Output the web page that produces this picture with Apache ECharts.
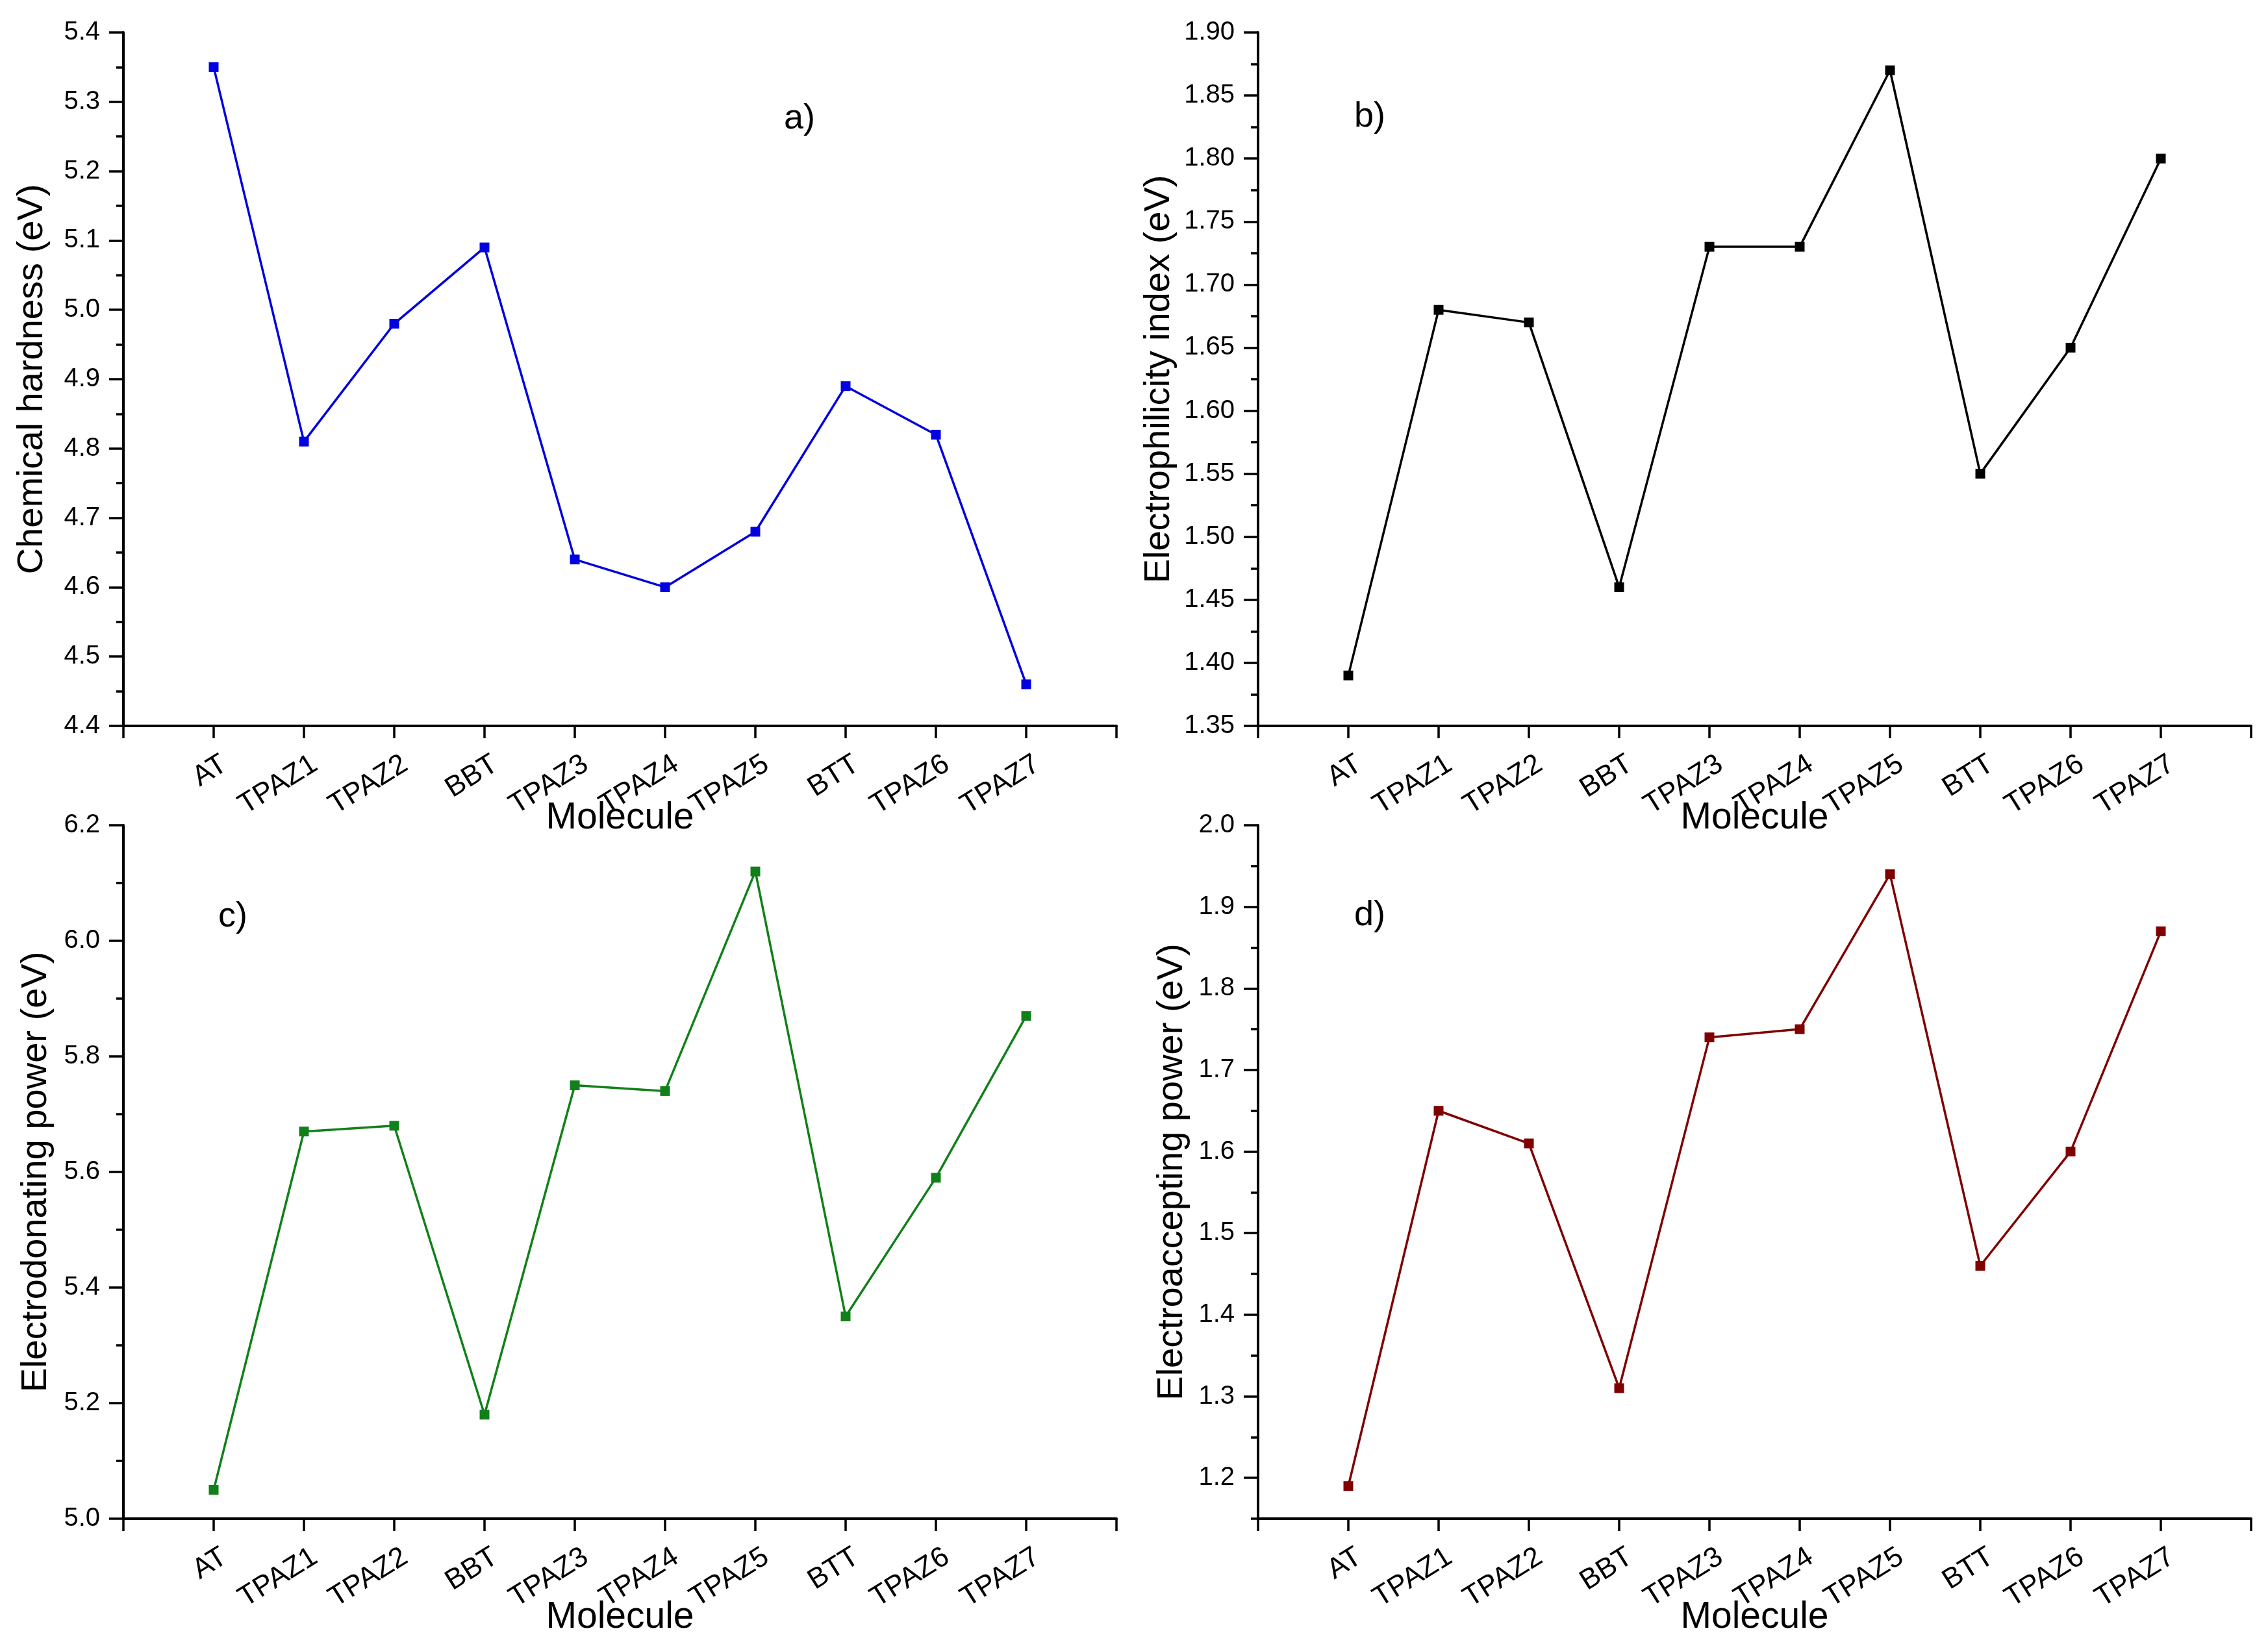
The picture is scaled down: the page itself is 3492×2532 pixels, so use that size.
<!DOCTYPE html>
<html>
<head>
<meta charset="utf-8">
<script src="https://cdn.jsdelivr.net/npm/echarts@6.0.0/dist/echarts.min.js"></script>
<style>
html,body{margin:0;padding:0;background:#fff;}
#chart{width:3492px;height:2532px;}
</style>
</head>
<body>
<div id="chart"></div>
<script>
// ---- data ----
const molecules = ['AT','TPAZ1','TPAZ2','BBT','TPAZ3','TPAZ4','TPAZ5','BTT','TPAZ6','TPAZ7'];
const hardness = [5.35, 4.81, 4.98, 5.09, 4.64, 4.60, 4.68, 4.89, 4.82, 4.46];
const electrophilicity = [1.39, 1.68, 1.67, 1.46, 1.73, 1.73, 1.87, 1.55, 1.65, 1.80];
const electrodonating = [5.05, 5.67, 5.68, 5.18, 5.75, 5.74, 6.12, 5.35, 5.59, 5.87];
const electroaccepting = [1.19, 1.65, 1.61, 1.31, 1.74, 1.75, 1.94, 1.46, 1.60, 1.87];

const hardnessTicks = ['4.4','4.5','4.6','4.7','4.8','4.9','5.0','5.1','5.2','5.3','5.4'];
const electrophilicityTicks = ['1.35','1.40','1.45','1.50','1.55','1.60','1.65','1.70','1.75','1.80','1.85','1.90'];
const electrodonatingTicks = ['5.0','5.2','5.4','5.6','5.8','6.0','6.2'];
const electroacceptingTicks = ['1.2','1.3','1.4','1.5','1.6','1.7','1.8','1.9','2.0'];

const FONT = '"Liberation Sans", Arial, sans-serif';

const panels = [
  {values: hardness, ticks: hardnessTicks, range: [4.4, 5.4], name: 'Chemical hardness (eV)',
   color: '#0000e0', tag: 'a)', left: 190, top: 50, nameGap: 112, xNameGap: 114, tagX: 1207, tagY: 186},
  {values: electrophilicity, ticks: electrophilicityTicks, range: [1.35, 1.90], name: 'Electrophilicity index (eV)',
   color: '#000000', tag: 'b)', left: 1937, top: 50, nameGap: 124, xNameGap: 114, tagX: 2085, tagY: 183},
  {values: electrodonating, ticks: electrodonatingTicks, range: [5.0, 6.2], name: 'Electrodonating power (eV)',
   color: '#12801a', tag: 'c)', left: 190, top: 1271, nameGap: 106, xNameGap: 124, tagX: 336, tagY: 1415},
  {values: electroaccepting, ticks: electroacceptingTicks, range: [1.15, 2.0], name: 'Electroaccepting power (eV)',
   color: '#800000', tag: 'd)', left: 1937, top: 1271, nameGap: 104, xNameGap: 124, tagX: 2085, tagY: 1413}
];

const GW = 1529, GH = 1068;
const grid = [], xAxis = [], yAxis = [], series = [], graphic = [];

panels.forEach((p, i) => {
  grid.push({left: p.left, top: p.top, width: GW, height: GH, containLabel: false, outerBoundsMode: 'none'});
  xAxis.push({
    type: 'value', gridIndex: i, min: 0, max: 11, interval: 1,
    name: 'Molecule', nameLocation: 'middle', nameGap: p.xNameGap, nameMoveOverlap: false,
    nameTextStyle: {fontFamily: FONT, fontSize: 57, color: '#000'},
    axisLine: {show: true, lineStyle: {color: '#000', width: 4}},
    axisTick: {show: true, length: 19, lineStyle: {color: '#000', width: 3.5}},
    axisLabel: {
      rotate: 32, margin: 66, fontFamily: FONT, fontSize: 44, color: '#000',
      padding: [0, -20, 0, 0],
      formatter: v => (v >= 1 && v <= molecules.length) ? molecules[v - 1] : ''
    },
    splitLine: {show: false}
  });
  const majors = p.ticks.map(Number);
  const minors = [];
  if (p.range[0] < majors[0]) minors.push(p.range[0]);
  for (let k = 0; k < majors.length - 1; k++) minors.push((majors[k] + majors[k + 1]) / 2);
  yAxis.push({
    type: 'value', gridIndex: i, position: 'left', min: p.range[0], max: p.range[1],
    name: p.name, nameLocation: 'middle', nameGap: p.nameGap, nameMoveOverlap: false,
    nameTextStyle: {fontFamily: FONT, fontSize: 56, color: '#000'},
    axisLine: {show: true, lineStyle: {color: '#000', width: 4}},
    axisTick: {show: true, length: 22, customValues: majors, lineStyle: {color: '#000', width: 3.5}},
    axisLabel: {
      customValues: majors, margin: 36, fontFamily: FONT, fontSize: 40, color: '#000',
      formatter: v => {
        const t = p.ticks.find(s => Math.abs(Number(s) - v) < 1e-6);
        return t === undefined ? '' : t;
      }
    },
    splitLine: {show: false}
  });
  yAxis.push({
    type: 'value', gridIndex: i, position: 'left', min: p.range[0], max: p.range[1],
    axisLine: {show: false},
    axisTick: {show: true, length: 11, customValues: minors, lineStyle: {color: '#000', width: 3.5}},
    axisLabel: {show: false},
    splitLine: {show: false}
  });
  series.push({
    type: 'line', xAxisIndex: i, yAxisIndex: 2 * i,
    data: p.values.map((v, k) => [k + 1, v]),
    symbol: 'rect', symbolSize: 15,
    lineStyle: {color: p.color, width: 3.5},
    itemStyle: {color: p.color},
    animation: false, z: 3
  });
  graphic.push({
    type: 'text', left: p.tagX, top: p.tagY - 30,
    style: {text: p.tag, fontFamily: FONT, fontSize: 54, fill: '#000'}
  });
});

const chart = echarts.init(document.getElementById('chart'), null, {renderer: 'canvas', width: 3492, height: 2532});
chart.setOption({
  backgroundColor: '#ffffff',
  animation: false,
  grid, xAxis, yAxis, series, graphic
});
</script>
</body>
</html>
